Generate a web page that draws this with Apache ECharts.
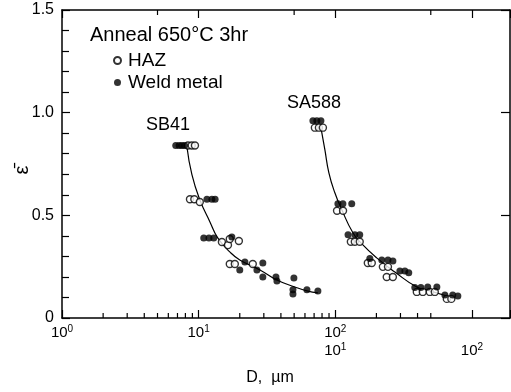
<!DOCTYPE html>
<html>
<head>
<meta charset="utf-8">
<script src="https://cdn.jsdelivr.net/npm/echarts@6/dist/echarts.min.js"></script>
<style>
  html, body { margin: 0; padding: 0; background: #fff; }
  #chart { width: 511px; height: 392px; }
</style>
</head>
<body>
<div id="chart"></div>
<script>
const FONT = '"Liberation Sans", "DejaVu Sans", sans-serif';

// SB41: [D (µm), ε] on the first decade row (10^0 ...)
const SB41_HAZ = [
  [8.35, 0.84], [8.9, 0.84], [9.4, 0.84],
  [8.64, 0.578], [9.3, 0.578], [10.2, 0.565],
  [14.8, 0.37], [16.4, 0.355], [16.9, 0.385], [19.7, 0.375],
  [16.9, 0.263], [18.4, 0.263], [24.9, 0.263],
];
const SB41_WELD = [
  [6.8, 0.84], [7.2, 0.84], [7.55, 0.84], [7.9, 0.84],
  [11.5, 0.578], [12.5, 0.578], [13.2, 0.578],
  [10.9, 0.39], [11.9, 0.39], [12.9, 0.39], [17.5, 0.395],
  [20.0, 0.234], [21.8, 0.273], [26.7, 0.234], [29.5, 0.268], [29.5, 0.2],
  [36.8, 0.2], [37.4, 0.18], [49.8, 0.195], [49.0, 0.137], [49.0, 0.117],
  [62.0, 0.137], [74.6, 0.132],
];
const SB41_FIT = [
  [8.21, 0.834], [8.93, 0.698], [10.2, 0.576], [12.1, 0.468], [13.8, 0.39],
  [16.9, 0.322], [20.0, 0.283], [28.1, 0.234], [37.4, 0.185], [50.6, 0.151],
  [62.0, 0.132], [74.6, 0.122],
];

// SA588: read on the shifted row (10^1 under 10^2)
const SA588_HAZ = [
  [7.09, 0.927], [7.59, 0.927], [8.12, 0.927],
  [10.3, 0.522], [11.4, 0.522],
  [13.0, 0.371], [13.9, 0.371], [15.1, 0.371],
  [17.3, 0.268], [18.5, 0.268], [22.3, 0.249], [24.3, 0.249], [23.8, 0.2], [26.4, 0.2],
  [39.5, 0.127], [43.7, 0.127], [49.2, 0.127], [53.5, 0.127],
  [65.5, 0.093], [70.7, 0.093],
];
const SA588_WELD = [
  [6.86, 0.961], [7.33, 0.961], [7.85, 0.961],
  [10.45, 0.556], [11.37, 0.556], [13.2, 0.556],
  [12.4, 0.405], [13.9, 0.405], [15.1, 0.405],
  [17.9, 0.29], [21.9, 0.283], [24.3, 0.283], [26.4, 0.278],
  [29.7, 0.229], [32.3, 0.229], [34.5, 0.22],
  [38.2, 0.149], [42.3, 0.149], [47.5, 0.151], [55.4, 0.151],
  [63.4, 0.112], [72.4, 0.112], [78.9, 0.107],
];
const SA588_FIT = [
  [7.85, 0.927], [8.39, 0.82], [8.98, 0.707], [9.93, 0.61], [11.17, 0.527],
  [13.46, 0.415], [15.66, 0.361], [20.1, 0.293], [27.3, 0.224], [39.5, 0.151],
  [49.2, 0.132], [65.5, 0.107],
];

const X_MIN = 1;
const X_MAX = 1900;
const SHIFT = 10; // second row is one decade lower
const Y_MAX = 1.5;

const BOTTOM_EXPONENTS = [0, 1, 2];
const SHIFTED_EXPONENTS = [1, 2];
const BOTTOM_MINOR = [2, 3, 4, 5, 6, 7, 8, 9, 20, 30, 40, 50, 60, 70, 80, 90, 200, 300, 400, 500];
const TOP_MINOR = [5, 50, 500];

const chart = echarts.init(document.getElementById('chart'), null, { renderer: 'canvas' });

const supRich = {
  b: { fontFamily: FONT, fontSize: 15, color: '#000' },
  s: { fontFamily: FONT, fontSize: 10, color: '#000', padding: [0, 0, 8, 0] },
};

function powLabel(exponents) {
  return (v) => {
    const e = Math.log10(v);
    const r = Math.round(e);
    if (Math.abs(e - r) > 1e-6 || !exponents.includes(r)) return '';
    return '{b|10}{s|' + r + '}';
  };
}

// 対数軸の 2〜9 の目盛りは軸側では出せないので custom で描く
function tickRenderer(len) {
  return (params, api) => {
    const p = api.coord([api.value(0), api.value(1)]);
    const dir = api.value(1) > 0 ? 1 : -1;
    return {
      type: 'line',
      shape: { x1: p[0], y1: p[1], x2: p[0], y2: p[1] + dir * len },
      style: { stroke: '#000', lineWidth: 1.2 },
    };
  };
}

const line = () => ({ show: true, onZero: false, lineStyle: { color: '#000', width: 1.5 } });
const tick = (len) => ({ show: true, inside: true, length: len, lineStyle: { color: '#000', width: 1.2 } });

const openStyle = { color: '#fff', borderColor: '#000', borderWidth: 1.4 };
const fullStyle = { color: '#000', borderColor: '#000', borderWidth: 0 };

chart.setOption({
  animation: false,
  grid: { left: 62, right: 1, top: 10, bottom: 74, containLabel: false, outerBoundsMode: 'none' },
  title: {
    text: 'Anneal 650°C 3hr',
    left: 90,
    top: 25,
    padding: 0,
    textStyle: { fontFamily: FONT, fontSize: 20, fontWeight: 'normal', color: '#000' },
  },
  legend: {
    orient: 'vertical',
    left: 113,
    top: 51,
    padding: 0,
    itemGap: 3,
    itemWidth: 7,
    itemHeight: 7,
    icon: 'circle',
    data: ['HAZ', 'Weld metal'],
    textStyle: { fontFamily: FONT, fontSize: 19, color: '#000', padding: [0, 0, 0, 2] },
  },
  xAxis: [
    {
      type: 'log', min: X_MIN, max: X_MAX,
      axisLine: line(),
      axisTick: tick(8),
      axisLabel: { margin: 6, formatter: powLabel(BOTTOM_EXPONENTS), rich: supRich },
      splitLine: { show: false },
    },
    {
      type: 'log', min: X_MIN / SHIFT, max: X_MAX / SHIFT, position: 'bottom', offset: 18,
      axisLine: { show: false, onZero: false },
      axisTick: { show: false },
      axisLabel: { margin: 6, formatter: powLabel(SHIFTED_EXPONENTS), rich: supRich },
      splitLine: { show: false },
      name: 'D,  µm',
      nameLocation: 'middle',
      nameGap: 34,
      nameTextStyle: { fontFamily: FONT, fontSize: 16, color: '#000', padding: [0, 32, 0, 0] },
    },
    {
      type: 'log', min: X_MIN, max: X_MAX, position: 'top',
      axisLine: line(),
      axisTick: tick(8),
      axisLabel: { show: false },
      splitLine: { show: false },
    },
  ],
  yAxis: [
    {
      type: 'value', min: 0, max: Y_MAX, interval: 0.5,
      axisLine: line(),
      axisTick: tick(8),
      minorTick: { show: true, splitNumber: 5, length: 7, lineStyle: { color: '#000', width: 1.2 } },
      axisLabel: {
        margin: 8, fontFamily: FONT, fontSize: 16, color: '#000',
        formatter: (v) => (v === 0 ? '0' : v.toFixed(1)),
      },
      splitLine: { show: false },
    },
    {
      type: 'value', min: 0, max: Y_MAX, interval: 0.5, position: 'right',
      axisLine: line(),
      axisTick: tick(9),
      axisLabel: { show: false },
      splitLine: { show: false },
    },
  ],
  graphic: [
    {
      type: 'text', x: 22, y: 170, rotation: Math.PI / 2,
      style: { text: 'ε̄', fontFamily: FONT, fontSize: 20, fill: '#000', align: 'center', verticalAlign: 'middle' },
    },
    {
      type: 'text', x: 168, y: 125,
      style: { text: 'SB41', fontFamily: FONT, fontSize: 18, fill: '#000', align: 'center', verticalAlign: 'middle' },
    },
    {
      type: 'text', x: 314, y: 103,
      style: { text: 'SA588', fontFamily: FONT, fontSize: 18, fill: '#000', align: 'center', verticalAlign: 'middle' },
    },
  ],
  series: [
    {
      type: 'custom', xAxisIndex: 0, yAxisIndex: 0,
      renderItem: tickRenderer(5), data: BOTTOM_MINOR.map((v) => [v, 0]),
    },
    {
      type: 'custom', xAxisIndex: 0, yAxisIndex: 0,
      renderItem: tickRenderer(5), data: TOP_MINOR.map((v) => [v, Y_MAX]),
    },
    {
      name: 'SB41 fit', type: 'line', xAxisIndex: 0, yAxisIndex: 0, data: SB41_FIT,
      smooth: true, showSymbol: false, silent: true, z: 1,
      lineStyle: { color: '#000', width: 1.2 },
    },
    {
      name: 'SA588 fit', type: 'line', xAxisIndex: 1, yAxisIndex: 0, data: SA588_FIT,
      smooth: true, showSymbol: false, silent: true, z: 1,
      lineStyle: { color: '#000', width: 1.2 },
    },
    {
      name: 'HAZ', type: 'scatter', xAxisIndex: 0, yAxisIndex: 0, data: SB41_HAZ,
      symbolSize: 7, itemStyle: openStyle, z: 3,
    },
    {
      name: 'HAZ', type: 'scatter', xAxisIndex: 1, yAxisIndex: 0, data: SA588_HAZ,
      symbolSize: 7, itemStyle: openStyle, z: 3,
    },
    {
      name: 'Weld metal', type: 'scatter', xAxisIndex: 0, yAxisIndex: 0, data: SB41_WELD,
      symbolSize: 7, itemStyle: fullStyle, z: 4,
    },
    {
      name: 'Weld metal', type: 'scatter', xAxisIndex: 1, yAxisIndex: 0, data: SA588_WELD,
      symbolSize: 7, itemStyle: fullStyle, z: 4,
    },
  ],
});
</script>
</body>
</html>
